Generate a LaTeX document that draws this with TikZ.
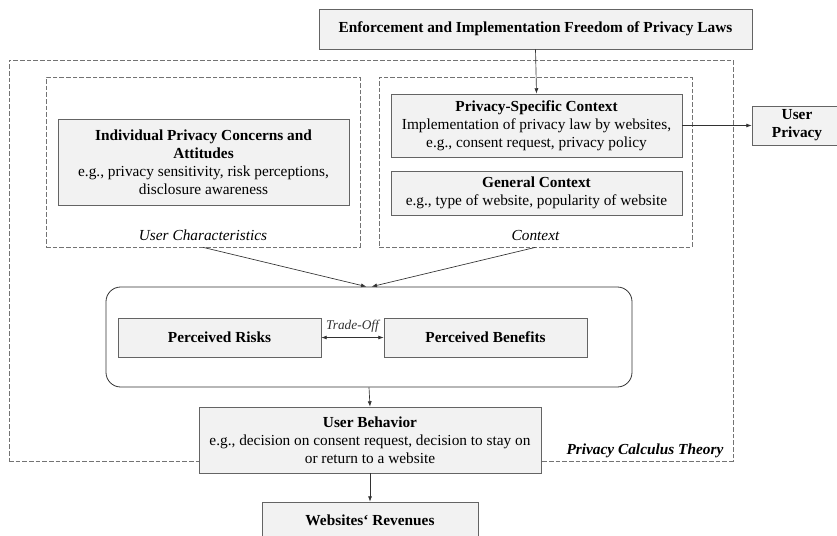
\documentclass[tikz,border=0pt]{standalone}
\usepackage{fontspec}
\setmainfont{Liberation Serif}
\usetikzlibrary{arrows.meta,positioning,calc}
\definecolor{boxfill}{RGB}{242,242,242}
\definecolor{boxline}{RGB}{100,100,100}
\definecolor{black80}{RGB}{50,50,50}

\tikzset{
    box/.style={draw=boxline, line width=0.6pt, fill=boxfill, align=center,
        inner sep=1pt, font=\fontsize{11.5}{13.5}\selectfont},
    frame/.style={draw=black!55, dash pattern=on 3.5pt off 1.5pt, line width=0.5pt, inner sep=0pt},
    link/.style={-{Latex[length=4pt,width=3pt]}, black80, line width=0.5pt},
    caption/.style={font=\fontsize{11.5}{13.5}\selectfont\itshape},
}

\begin{document}
\begin{tikzpicture}[x=0.75pt, y=-0.75pt]
    \useasboundingbox (0,0) rectangle (837,535);

    % Law on top
    \node[box, minimum width=324.75pt, minimum height=30pt] (law) at (535.5,29)
        {\textbf{Enforcement and Implementation Freedom of Privacy Laws}};

    % Privacy calculus frame
    \node[frame, minimum width=543pt, minimum height=300.75pt] (pct) at (371,260.5) {};
    \node[caption, font=\fontsize{11.5}{13.5}\selectfont\bfseries\itshape, anchor=east]
        (pctlab) at (728,451) {Privacy Calculus Theory};

    % User characteristics
    \node[frame, minimum width=235.5pt, minimum height=127.5pt] (uc) at (203,162) {};
    \node[box, minimum width=218.25pt, minimum height=64.5pt] (ipc) at (203.5,162)
        {\textbf{Individual Privacy Concerns and}\\\textbf{Attitudes}\\
         e.g., privacy sensitivity, risk perceptions,\\disclosure awareness};
    \node[caption] (uclab) at (203,235) {User Characteristics};

    % Context
    \node[frame, minimum width=234.75pt, minimum height=127.5pt] (ctx) at (535.5,162) {};
    \node[box, minimum width=218.25pt, minimum height=47.25pt] (psc) at (536.5,125.5)
        {\textbf{Privacy-Specific Context}\\
         Implementation of privacy law by websites,\\e.g., consent request, privacy policy};
    \node[box, minimum width=218.25pt, minimum height=33pt] (gc) at (536.5,193)
        {\textbf{General Context}\\e.g., type of website, popularity of website};
    \node[caption] (ctxlab) at (535.5,235) {Context};

    % User privacy (right)
    \node[box, minimum width=67.5pt, minimum height=29.25pt] (up) at (797,125.5)
        {\textbf{User}\\\textbf{Privacy}};

    % Calculus
    \node[draw=black80, line width=0.6pt, rounded corners=11pt,
        minimum width=394.5pt, minimum height=75pt] (calc) at (369,337) {};
    \node[box, minimum width=152.25pt, minimum height=29.25pt] (risk) at (219.5,337.5)
        {\textbf{Perceived Risks}};
    \node[box, minimum width=152.25pt, minimum height=29.25pt] (ben) at (485.5,337.5)
        {\textbf{Perceived Benefits}};

    % Behavior and revenues
    \node[box, minimum width=256.5pt, minimum height=49.5pt] (ub) at (370,440)
        {\textbf{User Behavior}\\
         e.g., decision on consent request, decision to stay on\\or return to a website};
    \node[box, minimum width=162pt, minimum height=27pt] (rev) at (370,520)
        {\textbf{Websites‘ Revenues}};

    % Connectors
    \draw[link] (law.south) -- (psc.north);
    \draw[link] (psc.east) -- (up.west);
    \draw[link] (uc.south) -- ([xshift=-2pt]calc.north);
    \draw[link] (ctx.south) -- ([xshift=2pt]calc.north);
    \draw[{Latex[length=4pt,width=3pt]}-{Latex[length=4pt,width=3pt]}, black80, line width=0.5pt]
        (risk.east) -- node[above, font=\fontsize{10}{11}\selectfont\itshape] {Trade-Off} (ben.west);
    \draw[link] (calc.south) -- (ub.north);
    \draw[link] (ub.south) -- (rev.north);

\end{tikzpicture}
\end{document}
